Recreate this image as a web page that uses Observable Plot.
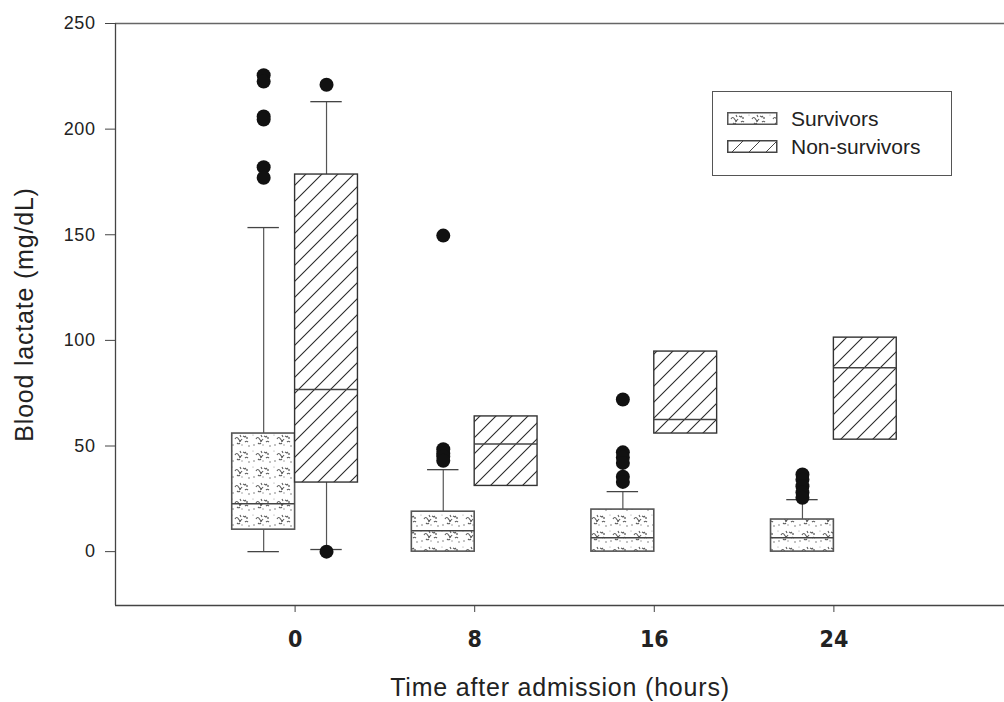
<!DOCTYPE html>
<html>
<head>
<meta charset="utf-8">
<script src="https://cdn.jsdelivr.net/npm/d3@7"></script>
<script src="https://cdn.jsdelivr.net/npm/@observablehq/plot@0.6"></script>
<style>
  html, body { margin: 0; padding: 0; background: #fff; overflow: hidden; }
  #wrap { position: relative; width: 1004px; height: 702px; }
  #wrap svg g[aria-label="y-axis tick label"] { font-size: 18px; letter-spacing: 0.6px; }
  #wrap svg g[aria-label="x-axis tick label"] { font-size: 23px; font-weight: bold; font-family: "Liberation Sans Narrow", "DejaVu Sans Condensed", "Liberation Sans", Arial, sans-serif; font-stretch: condensed; }
  #wrap svg g[aria-label="y-axis label"] { font-size: 25px; letter-spacing: 0.8px; }
  #wrap svg g[aria-label="x-axis label"] { font-size: 25px; letter-spacing: 0.8px; }
  #legend { position: absolute; left: 712px; top: 91px; width: 240px; height: 85px; border: 1.5px solid #555; box-sizing: border-box; background: #fff; font-family: "Liberation Sans", Arial, sans-serif; font-size: 21px; color: #222; }
  .item { position: absolute; left: 14px; height: 14px; display: flex; align-items: center; }
  .item svg { display: block; }
  .item span { position: absolute; left: 64px; white-space: nowrap; line-height: 1; }
</style>
</head>
<body>
<div id="wrap"></div>
<script>
// ---- data ----
const times = [0, 8, 16, 24];
const groups = ["Survivors", "Non-survivors"];

const survQ1 = [10.4, 0, 0, 0];
const survMedian = [22.7, 9.9, 6.6, 6.6];
const survQ3 = [55.9, 18.9, 19.9, 15.2];
const survWhiskerLow = [0, null, null, null];
const survWhiskerHigh = [153.4, 38.8, 28.4, 24.6];
const survOutliers = [
  [225.5, 222.5, 206, 204.5, 182, 177],
  [149.6, 48.5, 46.5, 45, 43],
  [72, 47, 44.5, 42, 35.5, 33],
  [36.5, 34, 31, 28, 25.5]
];

const nonQ1 = [32.7, 31.1, 55.9, 53];
const nonMedian = [76.7, 51, 62.5, 87.1];
const nonQ3 = [178.5, 64, 94.7, 101.3];
const nonWhiskerLow = [1, null, null, null];
const nonWhiskerHigh = [213, null, null, null];
const nonOutliers = [[221, 0], [], [], []];

const yTicks = [0, 50, 100, 150, 200, 250];
const xTicks = [0, 8, 16, 24];
const yDomain = [-25.5, 250];
const xDomain = [-8, 31.6];

// ---- derived tables ----
const boxW = 2.8, capHalf = 0.7;
function rowsFor(group, side, q1, med, q3, lo, hi, out) {
  return times.map((t, i) => ({
    group, time: t, q1: q1[i], median: med[i], q3: q3[i], lo: lo[i], hi: hi[i], outliers: out[i],
    x1: side < 0 ? t - boxW : t,
    x2: side < 0 ? t : t + boxW,
    center: t + side * boxW / 2
  }));
}
const surv = rowsFor(groups[0], -1, survQ1, survMedian, survQ3, survWhiskerLow, survWhiskerHigh, survOutliers);
const non = rowsFor(groups[1], 1, nonQ1, nonMedian, nonQ3, nonWhiskerLow, nonWhiskerHigh, nonOutliers);
const all = surv.concat(non);
const withHi = all.filter(d => d.hi != null);
const withLo = all.filter(d => d.lo != null);
const outlierRows = all.flatMap(d => d.outliers.map(v => ({center: d.center, value: v, group: d.group})));

const svg = Plot.plot({
  width: 1004,
  height: 702,
  marginLeft: 115,
  marginRight: 0,
  marginTop: 23,
  marginBottom: 97,
  style: {fontFamily: '"Liberation Sans", Arial, sans-serif', color: "#222", background: "#fff"},
  x: {domain: xDomain},
  y: {domain: yDomain},
  marks: [
    // frame lines
    Plot.ruleY([yDomain[1]], {stroke: "#666", strokeWidth: 1.5}),
    Plot.ruleY([yDomain[0]], {stroke: "#444", strokeWidth: 1.5}),
    Plot.ruleX([xDomain[0]], {stroke: "#444", strokeWidth: 1.3}),
    // whiskers
    Plot.ruleX(withHi, {x: "center", y1: "q3", y2: "hi", stroke: "#555", strokeWidth: 1.2}),
    Plot.ruleX(withLo, {x: "center", y1: "lo", y2: "q1", stroke: "#555", strokeWidth: 1.2}),
    Plot.ruleY(withHi, {y: "hi", x1: d => d.center - capHalf, x2: d => d.center + capHalf, stroke: "#444", strokeWidth: 1.3}),
    Plot.ruleY(withLo, {y: "lo", x1: d => d.center - capHalf, x2: d => d.center + capHalf, stroke: "#444", strokeWidth: 1.3}),
    // boxes
    Plot.rect(surv, {x1: "x1", x2: "x2", y1: "q1", y2: "q3", fill: "url(#stipple)", stroke: "#555", strokeWidth: 1.6}),
    Plot.rect(non, {x1: "x1", x2: "x2", y1: "q1", y2: "q3", fill: "url(#hatch)", stroke: "#333", strokeWidth: 1.4}),
    // medians
    Plot.ruleY(all, {y: "median", x1: "x1", x2: "x2", stroke: "#444", strokeWidth: 1.5}),
    // outliers
    Plot.dot(outlierRows, {x: "center", y: "value", r: 7, fill: "#111", stroke: null}),
    // axes
    Plot.axisY({ticks: yTicks, tickSize: 10, tickPadding: 10, label: "Blood lactate (mg/dL)", labelAnchor: "center", labelOffset: 100, labelArrow: "none", stroke: "#444"}),
    Plot.axisX({ticks: xTicks, tickSize: 7, tickPadding: 18, label: "Time after admission (hours)", labelAnchor: "center", labelOffset: 90, labelArrow: "none", stroke: "#444"})
  ]
});

const stippleTile = `
  <rect width="21" height="16" fill="#fff"/>
  <path d="M4,7 c1,-2 2.5,-2 3.5,0 c1,2 2.5,2 3.5,0 M12,4 l2,1 l1,-1 M6,11 c1,1 2,1 3,0 M14,10 c1,-1 2,-1 3,0 M9,3 l1,2" stroke="#5e5e5e" stroke-width="1.1" fill="none"/>
  <circle cx="9" cy="9" r="1" fill="#555"/>
  <circle cx="16" cy="6" r="0.9" fill="#666"/>
  <circle cx="2" cy="13" r="0.8" fill="#777"/>
  <circle cx="18" cy="14" r="0.8" fill="#777"/>
  <circle cx="11" cy="13" r="0.7" fill="#888"/>
  <circle cx="1" cy="3" r="0.6" fill="#999"/>`;

d3.select(svg).insert("defs", ":first-child").html(`
  <pattern id="stipple" patternUnits="userSpaceOnUse" width="21" height="16">${stippleTile}</pattern>
  <pattern id="hatch" patternUnits="userSpaceOnUse" width="16" height="16">
    <rect width="16" height="16" fill="#fff"/>
    <path d="M-4,4 L4,-4 M0,16 L16,0 M12,20 L20,12" stroke="#2a2a2a" stroke-width="1.1"/>
  </pattern>`);

const wrap = document.getElementById("wrap");
wrap.appendChild(svg);

// ---- legend (inside the plot area, as in the reference) ----
const legend = d3.select(wrap).append("div").attr("id", "legend");
const swatchFill = {
  "Survivors": `<defs><pattern id="lgStipple" patternUnits="userSpaceOnUse" width="21" height="16">${stippleTile}</pattern></defs>
    <rect x="0.75" y="0.75" width="49" height="11.5" fill="url(#lgStipple)" stroke="#555" stroke-width="1.5"/>`,
  "Non-survivors": `<defs><pattern id="lgHatch" patternUnits="userSpaceOnUse" width="17" height="17">
      <rect width="17" height="17" fill="#fff"/>
      <path d="M-4,4 L4,-4 M0,17 L17,0 M13,21 L21,13" stroke="#444" stroke-width="1"/></pattern></defs>
    <rect x="0.75" y="0.75" width="49" height="11.5" fill="url(#lgHatch)" stroke="#444" stroke-width="1.5"/>`
};
groups.forEach((g, i) => {
  const item = legend.append("div").attr("class", "item").style("top", (19 + i * 28) + "px");
  item.append("svg").attr("width", 51).attr("height", 13).html(swatchFill[g]);
  item.append("span").text(g);
});
</script>
</body>
</html>
